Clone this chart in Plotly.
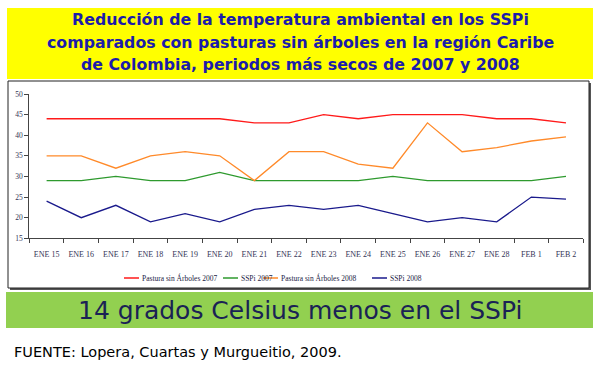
import plotly.graph_objects as go

categories = ["ENE 15", "ENE 16", "ENE 17", "ENE 18", "ENE 19", "ENE 20", "ENE 21", "ENE 22",
              "ENE 23", "ENE 24", "ENE 25", "ENE 26", "ENE 27", "ENE 28", "FEB 1", "FEB 2"]
pastura_2007 = [44, 44, 44, 44, 44, 44, 43, 43, 45, 44, 45, 45, 45, 44, 44, 43]
sspi_2007 = [29, 29, 30, 29, 29, 31, 29, 29, 29, 29, 30, 29, 29, 29, 29, 30]
pastura_2008 = [35, 35, 32, 35, 36, 35, 29, 36, 36, 33, 32, 43, 36, 37, 38.6, 39.6]
sspi_2008 = [24, 20, 23, 19, 21, 19, 22, 23, 22, 23, 21, 19, 20, 19, 25, 24.5]

series_names = ["Pastura sin Árboles 2007", "SSPi 2007", "Pastura sin Árboles 2008", "SSPi 2008"]
series_values = [pastura_2007, sspi_2007, pastura_2008, sspi_2008]
series_colors = ["#ff1a1a", "#2e9a2e", "#ff8a2a", "#1a1a8c"]

title_lines = ["Reducción de la temperatura ambiental en los SSPi",
               "comparados con pasturas sin árboles en la región Caribe",
               "de Colombia, periodos más secos de 2007 y 2008"]
banner_text = "14 grados Celsius menos en el SSPi"
source_text = "FUENTE: Lopera, Cuartas y Murgueitio, 2009."

W, H = 600, 372
def px(x):
    return x / W
def py(y):
    return 1 - y / H

fig = go.Figure()
for name, vals, col in zip(series_names, series_values, series_colors):
    fig.add_trace(go.Scatter(x=categories, y=vals, name=name, mode="lines",
                             line=dict(color=col, width=1.3), showlegend=False))

shapes = []
annotations = []
# yellow title box
shapes.append(dict(type="rect", xref="paper", yref="paper", x0=px(7), x1=px(593), y0=py(79), y1=py(8),
                   fillcolor="#ffff00", line=dict(width=0), layer="below"))
# chart frame shadow + frame
shapes.append(dict(type="rect", xref="paper", yref="paper", x0=px(10), x1=px(591), y0=py(290), y1=py(83),
                   fillcolor="#555555", line=dict(width=0), layer="below"))
shapes.append(dict(type="rect", xref="paper", yref="paper", x0=px(8), x1=px(589), y0=py(288), y1=py(81),
                   fillcolor="white", line=dict(color="#222222", width=1), layer="below"))
# green banner
shapes.append(dict(type="rect", xref="paper", yref="paper", x0=px(6), x1=px(593), y0=py(328), y1=py(292),
                   fillcolor="#92d050", line=dict(width=0), layer="below"))

for i, line in enumerate(title_lines):
    annotations.append(dict(text="<b>" + line + "</b>", xref="paper", yref="paper", x=0.5, y=py(20 + 22 * i),
                            xanchor="center", yanchor="middle", showarrow=False,
                            font=dict(family="DejaVu Sans", size=15.8, color="#1c1caa")))
annotations.append(dict(text=banner_text, xref="paper", yref="paper", x=0.5, y=py(310),
                        xanchor="center", yanchor="middle", showarrow=False,
                        font=dict(family="DejaVu Sans", size=25, color="#1a2255")))
annotations.append(dict(text=source_text, xref="paper", yref="paper", x=px(12), y=py(352),
                        xanchor="left", yanchor="middle", showarrow=False,
                        font=dict(family="DejaVu Sans", size=14.5, color="black")))

# custom compact legend
leg_x = [124, 223, 263, 372]
for name, col, lx in zip(series_names, series_colors, leg_x):
    shapes.append(dict(type="line", xref="paper", yref="paper", x0=px(lx), x1=px(lx + 15),
                       y0=py(278), y1=py(278), line=dict(color=col, width=1.5)))
    annotations.append(dict(text=name, xref="paper", yref="paper", x=px(lx + 16), y=py(278),
                            xanchor="left", yanchor="middle", showarrow=False,
                            font=dict(family="Liberation Serif", size=7.5, color="#222244")))

fig.update_layout(
    width=W, height=H, margin=dict(l=0, r=0, t=0, b=0),
    paper_bgcolor="white", plot_bgcolor="white",
    shapes=shapes, annotations=annotations,
    xaxis=dict(domain=[px(29.3), px(583.3)], type="category", tickson="boundaries", automargin=False,
               range=[-0.5, len(categories) - 0.5],
               ticks="outside", ticklen=4, tickcolor="#444", showline=True, linecolor="#444",
               linewidth=1, showgrid=False, tickangle=0, ticklabelstandoff=8,
               tickfont=dict(family="Liberation Serif", size=8, color="#333355")),
    yaxis=dict(domain=[py(238.3), py(94)], range=[15, 50], dtick=5, ticks="outside", ticklen=4,
               automargin=False,
               tickcolor="#444", showline=True, linecolor="#444", linewidth=1, showgrid=False,
               zeroline=False, tickfont=dict(family="Liberation Serif", size=7.5, color="#333355")),
)
fig.write_html("out.html", config={"displayModeBar": False},
               post_script="document.body.style.margin='0';document.body.style.overflow='hidden';")
